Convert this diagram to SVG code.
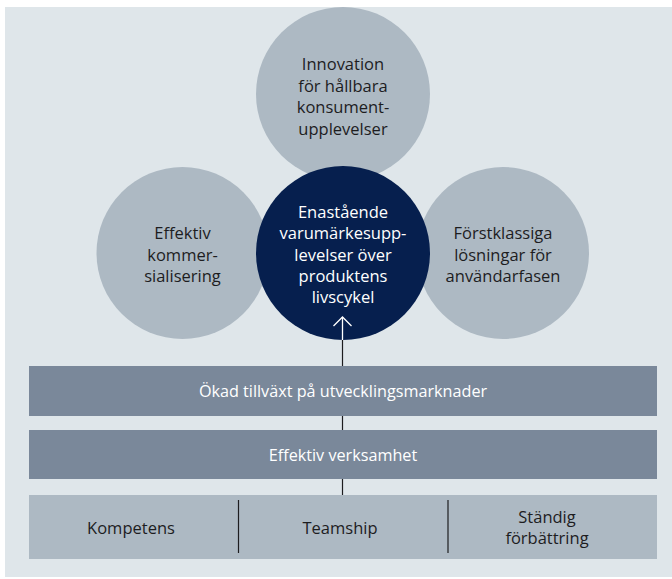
<svg xmlns="http://www.w3.org/2000/svg" width="672" height="579" viewBox="0 0 672 579">
<defs>
<style>
.bg{fill:#dfe6ea}
.c{fill:#adb9c3}
.d{fill:#061f4e}
.bar{fill:#7a889a}
.base{fill:#adb9c3}
.t{font-family:"Open Sans",Lato,sans-serif;font-size:16.5px;fill:#1d1d1f;text-anchor:middle}
.w{fill:#ffffff}
.bt{font-family:"Open Sans",Lato,sans-serif;font-size:16.2px;fill:#ffffff;text-anchor:middle}
.ln{stroke:#1d1d1f;stroke-width:1.2;fill:none}
.wl{stroke:#ffffff;stroke-width:1.3;fill:none}
</style>
</defs>
<rect x="0" y="0" width="672" height="579" fill="#ffffff"/>
<rect class="bg" x="5" y="7" width="667" height="570"/>
<g id="node-top">
<circle class="c" cx="343" cy="94" r="87"/>
<text class="t" x="343" y="70">Innovation</text>
<text class="t" x="343" y="91.5">för hållbara</text>
<text class="t" x="343" y="113">konsument-</text>
<text class="t" x="343" y="134.5">upplevelser</text>
</g>
<g id="node-left">
<circle class="c" cx="182.5" cy="253" r="86"/>
<text class="t" x="182.5" y="239">Effektiv</text>
<text class="t" x="182.5" y="260.5">kommer-</text>
<text class="t" x="182.5" y="282">sialisering</text>
</g>
<g id="node-right">
<circle class="c" cx="503" cy="253" r="86"/>
<text class="t" x="503" y="239">Förstklassiga</text>
<text class="t" x="503" y="260.5">lösningar för</text>
<text class="t" x="503" y="282">användarfasen</text>
</g>
<g id="node-center">
<circle class="d" cx="343" cy="253" r="87"/>
<text class="t w" x="343" y="218">Enastående</text>
<text class="t w" x="343" y="239">varumärkesupp-</text>
<text class="t w" x="343" y="260.5">levelser över</text>
<text class="t w" x="343" y="282">produktens</text>
<text class="t w" x="343" y="303">livscykel</text>
</g>
<g id="bar-growth">
<rect class="bar" x="29" y="366" width="628" height="50"/>
<text class="bt" x="343" y="397">Ökad tillväxt på utvecklingsmarknader</text>
</g>
<g id="bar-efficiency">
<rect class="bar" x="29" y="430" width="628" height="49"/>
<text class="bt" x="343" y="461">Effektiv verksamhet</text>
</g>
<g id="bar-base">
<rect class="base" x="29" y="495" width="628" height="64"/>
<line class="ln" x1="238.5" y1="500" x2="238.5" y2="553"/>
<line class="ln" x1="448" y1="500" x2="448" y2="553"/>
</g>
<g id="node-kompetens">
<text class="t" x="131" y="534">Kompetens</text>
</g>
<g id="node-teamship">
<text class="t" x="340" y="534">Teamship</text>
</g>
<g id="node-standig">
<text class="t" x="547" y="523">Ständig</text>
<text class="t" x="547" y="544">förbättring</text>
</g>
<g id="connectors">
<line class="wl" x1="342.5" y1="317" x2="342.5" y2="340"/>
<line class="ln" x1="342.5" y1="340" x2="342.5" y2="366"/>
<polyline class="wl" points="333.5,326 342.5,317 351.5,326"/>
<line class="ln" x1="342.5" y1="416" x2="342.5" y2="430"/>
<line class="ln" x1="342.5" y1="479" x2="342.5" y2="495"/>
</g>
</svg>
